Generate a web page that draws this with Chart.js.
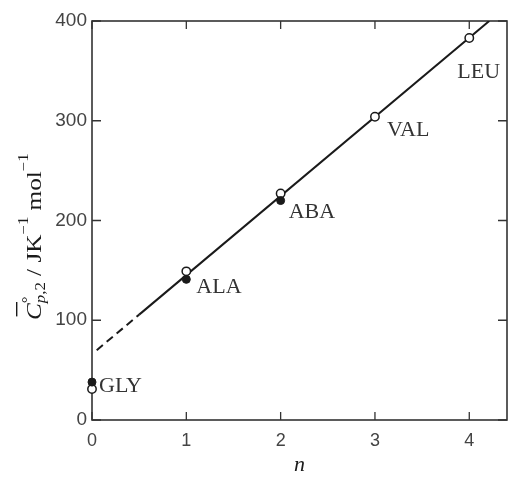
<!DOCTYPE html>
<html>
<head>
<meta charset="utf-8">
<script src="https://cdn.jsdelivr.net/npm/chart.js@4"></script>
<style>
  html, body { margin: 0; padding: 0; background: #fff; }
</style>
</head>
<body>
<canvas id="cpChart" width="520" height="479"></canvas>
<script>
// n = number of side-chain carbons, Cp values in J K^-1 mol^-1
const nOpen = [0, 1, 2, 3, 4];
const cpOpen = [31, 149, 227, 304, 383];
const nFilled = [0, 1, 2];
const cpFilled = [38, 141, 220];
const aminoNames = ["GLY", "ALA", "ABA", "VAL", "LEU"];
const xTickValues = [0, 1, 2, 3, 4];
const yTickValues = [0, 100, 200, 300, 400];

// straight line fitted through the points: Cp = a + b n
const fitIntercept = 66;
const fitSlope = 79.3;
const dashedFrom = 0.05;
const solidFrom = 0.5;
const yMax = 400;

// label offsets from the open point (pixels)
const labelOffsets = [[7, 3], [10, 22], [8, 24], [12, 19], [-12, 40]];

const serif = '"Liberation Serif", "Times New Roman", serif';
const sans = '"Liberation Sans", Arial, sans-serif';
const ink = "#1a1a1a";

function fitPoint(n) {
  return { x: n, y: fitIntercept + fitSlope * n };
}
const solidTo = (yMax - fitIntercept) / fitSlope;

function drawYTitle(ctx, x0, y0) {
  ctx.save();
  ctx.translate(x0, y0);
  ctx.rotate(-Math.PI / 2);
  ctx.scale(1.2, 1);
  ctx.fillStyle = ink;
  ctx.textBaseline = "alphabetic";
  let cx = 0;
  const put = (txt, font, dy) => {
    ctx.font = font;
    ctx.fillText(txt, cx, dy);
    cx += ctx.measureText(txt).width;
  };
  const main = "21px " + serif;
  const small = "14px " + serif;
  const cStart = cx;
  put("C", "italic " + main, 0);
  ctx.fillRect(cStart + 3, -25, cx - cStart - 2, 1.4);
  const afterC = cx;
  put("°", small, -9);
  cx = afterC;
  put("p", "italic " + small, 4);
  put(",2", small, 4);
  put(" / JK", main, 0);
  put("\u22121", small, -13);
  put(" mol", main, 0);
  put("\u22121", small, -13);
  ctx.restore();
}

const decorPlugin = {
  id: "decor",
  beforeDatasetsDraw(chart) {
    const { ctx, chartArea: a, scales } = chart;
    const x = scales.x, y = scales.y;
    ctx.save();
    // frame
    ctx.strokeStyle = "#333";
    ctx.lineWidth = 1.6;
    ctx.strokeRect(a.left, a.top, a.right - a.left, a.bottom - a.top);
    // inward ticks on all four sides
    ctx.lineWidth = 1.3;
    ctx.beginPath();
    xTickValues.forEach(v => {
      const px = x.getPixelForValue(v);
      ctx.moveTo(px, a.bottom); ctx.lineTo(px, a.bottom - 8);
      ctx.moveTo(px, a.top); ctx.lineTo(px, a.top + 8);
    });
    yTickValues.forEach(v => {
      const py = y.getPixelForValue(v);
      ctx.moveTo(a.left, py); ctx.lineTo(a.left + 9, py);
      ctx.moveTo(a.right, py); ctx.lineTo(a.right - 9, py);
    });
    ctx.stroke();
    drawYTitle(ctx, 41, a.bottom - 100);
    ctx.restore();
  },
  afterDatasetsDraw(chart) {
    const { ctx, scales } = chart;
    const x = scales.x, y = scales.y;
    ctx.save();
    // amino acid labels
    ctx.fillStyle = "#333";
    ctx.font = "22px " + serif;
    ctx.textBaseline = "alphabetic";
    ctx.textAlign = "left";
    aminoNames.forEach((name, i) => {
      const px = x.getPixelForValue(nOpen[i]) + labelOffsets[i][0];
      const py = y.getPixelForValue(cpOpen[i]) + labelOffsets[i][1];
      ctx.fillText(name, px, py);
    });
    ctx.restore();
  }
};

new Chart(document.getElementById("cpChart"), {
  type: "scatter",
  data: {
    datasets: [
      {
        label: "filled",
        data: nFilled.map((n, i) => ({ x: n, y: cpFilled[i] })),
        pointRadius: 4,
        pointBackgroundColor: ink,
        pointBorderColor: ink,
        pointBorderWidth: 1,
        clip: false,
        order: 1
      },
      {
        label: "open",
        data: nOpen.map((n, i) => ({ x: n, y: cpOpen[i] })),
        pointRadius: 4.2,
        pointBackgroundColor: "#fff",
        pointBorderColor: ink,
        pointBorderWidth: 1.5,
        clip: false,
        order: 2
      },
      {
        label: "fit",
        data: [fitPoint(solidFrom), fitPoint(solidTo)],
        showLine: true,
        pointRadius: 0,
        borderColor: ink,
        borderWidth: 2,
        order: 3
      },
      {
        label: "fit extrapolated",
        data: [fitPoint(dashedFrom), fitPoint(solidFrom)],
        showLine: true,
        pointRadius: 0,
        borderColor: ink,
        borderWidth: 2,
        borderDash: [8, 5],
        order: 3
      }
    ]
  },
  options: {
    responsive: false,
    animation: false,
    devicePixelRatio: 1,
    layout: { padding: { top: 21, right: 13, bottom: 0, left: 0 } },
    plugins: {
      legend: { display: false },
      tooltip: { enabled: false }
    },
    scales: {
      x: {
        type: "linear",
        min: 0,
        max: 4.4,
        afterFit: s => { s.height = 59; },
        afterBuildTicks: s => { s.ticks = xTickValues.map(v => ({ value: v })); },
        grid: { display: false, drawTicks: false },
        border: { display: false },
        ticks: { color: "#444", font: { family: sans, size: 18 }, padding: 10 },
        title: {
          display: true,
          text: "n",
          color: ink,
          font: { family: serif, size: 22, style: "italic" },
          padding: { top: 0, bottom: 1 }
        }
      },
      y: {
        min: 0,
        max: yMax,
        afterFit: s => { s.width = 92; },
        afterBuildTicks: s => { s.ticks = yTickValues.map(v => ({ value: v })); },
        grid: { display: false, drawTicks: false },
        border: { display: false },
        ticks: { color: "#444", font: { family: sans, size: 19 }, padding: 5 }
      }
    }
  },
  plugins: [decorPlugin]
});
</script>
</body>
</html>
